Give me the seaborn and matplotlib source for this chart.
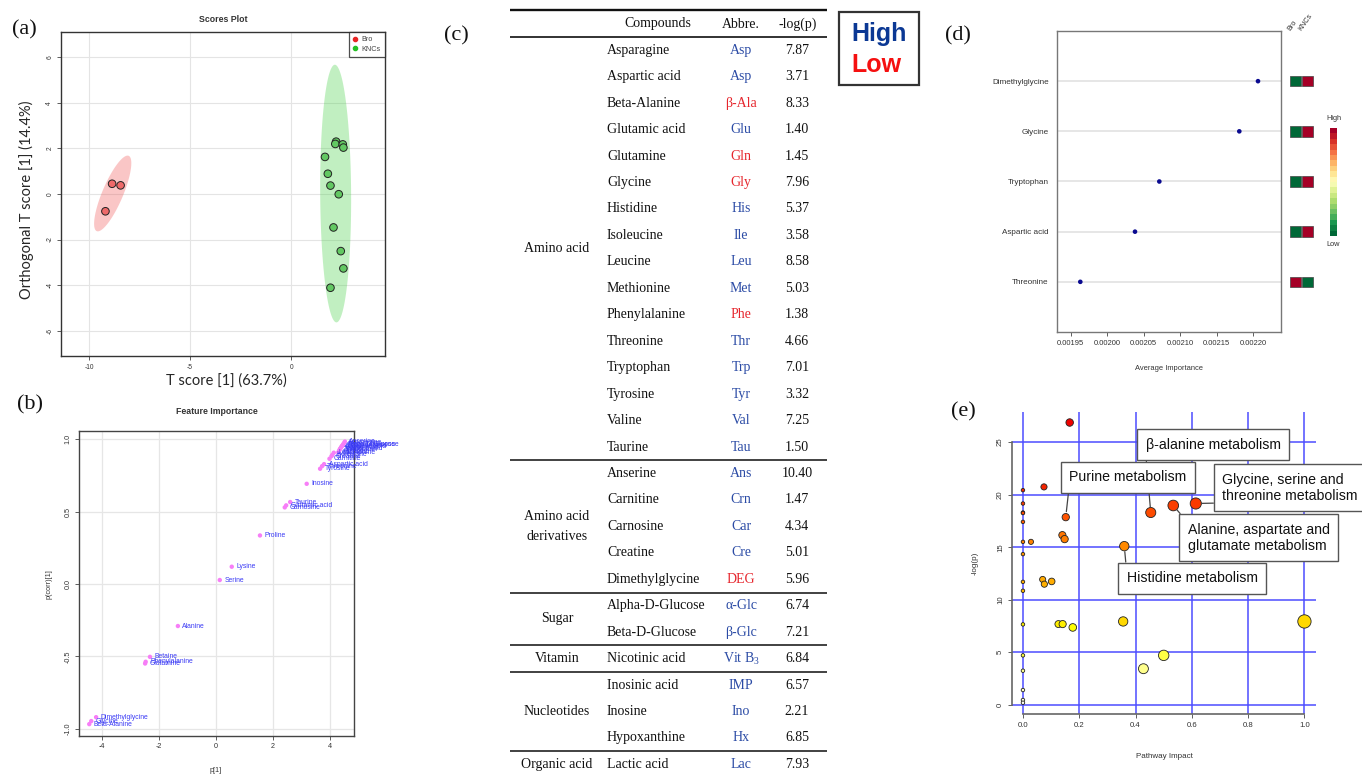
import numpy as np
import pandas as pd
import matplotlib
matplotlib.use("Agg")
import matplotlib.pyplot as plt
import seaborn as sns
from matplotlib.patches import Polygon, Rectangle
from matplotlib.lines import Line2D
from matplotlib.colors import LinearSegmentedColormap

# ---------------- (a) OPLS-DA scores ----------------
bro_t = [-8.86, -8.44, -9.19]
bro_o = [0.45, 0.38, -0.76]
knc_t = [1.68, 2.23, 2.19, 2.56, 2.59, 1.82, 1.95, 2.36, 2.10, 2.46, 2.59, 1.95]
knc_o = [1.63, 2.30, 2.20, 2.18, 2.04, 0.89, 0.37, -0.01, -1.47, -2.51, -3.27, -4.12]

# ---------------- (b) feature importance (S-plot) ----------------
feat_names = ["Anserine", "Asparagine", "Alpha-D-Glucose", "Beta-D-Glucose", "Hypoxanthine",
              "Nicotinic acid", "Lactic acid", "Inosinic acid", "Valine", "Tryptophan",
              "Histidine", "Methionine", "Leucine", "Isoleucine", "Creatine", "Carnitine",
              "Aspartic acid", "Threonine", "Tyrosine", "Inosine", "Taurine", "Glutamic acid",
              "Carnosine", "Proline", "Lysine", "Serine", "Alanine", "Betaine",
              "Phenylalanine", "Glutamine", "Dimethylglycine", "Glycine", "Beta-Alanine"]
feat_p1 = [4.52, 4.49, 4.47, 4.45, 4.43, 4.41, 4.39, 4.37, 4.35, 4.33, 4.31, 4.29, 4.13, 4.08,
           4.05, 3.98, 3.79, 3.72, 3.65, 3.18, 2.60, 2.46, 2.41, 1.54, 0.55, 0.13, -1.34, -2.32,
           -2.47, -2.49, -4.21, -4.38, -4.45]
feat_pcorr = [0.985, 0.975, 0.968, 0.962, 0.957, 0.952, 0.946, 0.940, 0.934, 0.927, 0.918, 0.910,
              0.908, 0.893, 0.884, 0.866, 0.829, 0.815, 0.797, 0.693, 0.567, 0.544, 0.530, 0.336,
              0.120, 0.028, -0.290, -0.503, -0.537, -0.549, -0.920, -0.947, -0.968]

# ---------------- (c) table ----------------
cat_names = ["Amino acid", "Amino acid\nderivatives", "Sugar", "Vitamin", "Nucleotides", "Organic acid"]
cat_sizes = [16, 5, 2, 1, 3, 1]
compounds = ["Asparagine", "Aspartic acid", "Beta-Alanine", "Glutamic acid", "Glutamine", "Glycine",
             "Histidine", "Isoleucine", "Leucine", "Methionine", "Phenylalanine", "Threonine",
             "Tryptophan", "Tyrosine", "Valine", "Taurine",
             "Anserine", "Carnitine", "Carnosine", "Creatine", "Dimethylglycine",
             "Alpha-D-Glucose", "Beta-D-Glucose",
             "Nicotinic acid",
             "Inosinic acid", "Inosine", "Hypoxanthine",
             "Lactic acid"]
abbrevs = ["Asp", "Asp", "β-Ala", "Glu", "Gln", "Gly", "His", "Ile", "Leu", "Met", "Phe", "Thr",
           "Trp", "Tyr", "Val", "Tau", "Ans", "Crn", "Car", "Cre", "DEG", "α-Glc", "β-Glc",
           r"Vit B$_\mathrm{3}$", "IMP", "Ino", "Hx", "Lac"]
abbr_level = ["High", "High", "Low", "High", "Low", "Low", "High", "High", "High", "High", "Low",
              "High", "High", "High", "High", "High", "High", "High", "High", "High", "Low",
              "High", "High", "High", "High", "High", "High", "High"]
neglogp = ["7.87", "3.71", "8.33", "1.40", "1.45", "7.96", "5.37", "3.58", "8.58", "5.03", "1.38",
           "4.66", "7.01", "3.32", "7.25", "1.50", "10.40", "1.47", "4.34", "5.01", "5.96", "6.74",
           "7.21", "6.84", "6.57", "2.21", "6.85", "7.93"]

# ---------------- (d) random forest importance ----------------
imp_names = ["Dimethylglycine", "Glycine", "Tryptophan", "Aspartic acid", "Threonine"]
imp_values = [0.0022064, 0.0021808, 0.0020713, 0.0020380, 0.0019631]
imp_bro = ["Low", "Low", "Low", "Low", "High"]
imp_knc = ["High", "High", "High", "High", "Low"]
imp_ticks = [0.00195, 0.00200, 0.00205, 0.00210, 0.00215, 0.00220]

# ---------------- (e) pathway analysis ----------------
path_impact = [0.166, 0.0747, 0.0, 0.0, 0.0, 0.0, 0.0, 0.0, 0.0284, 0.0, 0.0, 0.0, 0.0, 0.0, 0.0,
               0.0, 0.0, 0.0, 0.152, 0.140, 0.148, 0.070, 0.076, 0.102, 0.126, 0.141, 0.177,
               0.360, 0.356, 0.454, 0.534, 0.614, 0.428, 0.500, 1.0]
path_logp = [26.87, 20.74, 20.43, 19.16, 18.30, 18.25, 17.41, 15.51, 15.51, 14.34, 11.70, 10.85,
             7.65, 4.70, 3.24, 1.40, 0.45, 0.19, 17.86, 16.15, 15.77, 11.93, 11.48, 11.74, 7.68,
             7.68, 7.36, 15.10, 7.93, 18.30, 18.97, 19.16, 3.43, 4.70, 7.93]
path_labels = {29: "β-alanine metabolism", 18: "Purine metabolism",
               31: "Glycine, serine and\nthreonine metabolism",
               30: "Alanine, aspartate and\nglutamate metabolism", 27: "Histidine metabolism"}

# ================= style =================
sns.set_style("white")
SANS = ["Liberation Sans", "DejaVu Sans"]
SERIF = ["Liberation Serif", "DejaVu Serif"]
plt.rcParams["font.family"] = SANS
plt.rcParams["axes.unicode_minus"] = False
plt.rcParams["mathtext.fontset"] = "custom"
plt.rcParams["mathtext.rm"] = "Liberation Serif"

W, H = 1362, 774
fig = plt.figure(figsize=(W / 100, H / 100), dpi=100)


def px_axes(l, t, r, b, **kw):
    return fig.add_axes([l / W, 1 - b / H, (r - l) / W, (b - t) / H], **kw)


def ftext(x, y, s, **kw):
    return fig.text(x / W, 1 - y / H, s, **kw)


def r_style(ax, size=5.0, rot_y=True, spine="#444"):
    ax.tick_params(axis="both", which="both", direction="out", length=3, width=0.6,
                   color="#444", labelsize=size, labelcolor="#333", pad=2.5,
                   bottom=True, left=True)
    for s in ax.spines.values():
        s.set_color(spine)
        s.set_linewidth(1.0)
    if rot_y:
        ax.tick_params(axis="y", labelrotation=90)
        for t in ax.get_yticklabels():
            t.set_va("center")


# ---------- overlay axis for table & panel labels ----------
axT = fig.add_axes([0, 0, 1, 1], zorder=0)
axT.set_xlim(0, W)
axT.set_ylim(H, 0)
axT.axis("off")

# ================= (a) =================
axA = px_axes(61, 32, 385, 356)
dfA = pd.DataFrame({"t": bro_t + knc_t, "o": bro_o + knc_o,
                    "group": ["Bro"] * len(bro_t) + ["KNCs"] * len(knc_t)})


def conf_ellipse(x, y, k=2.45, n=200):
    pts = np.column_stack([x, y])
    mu = pts.mean(axis=0)
    vals, vecs = np.linalg.eigh(np.cov(pts.T))
    tt = np.linspace(0, 2 * np.pi, n)
    circ = np.vstack([np.cos(tt), np.sin(tt)])
    return mu + (k * vecs @ np.diag(np.sqrt(vals)) @ circ).T


for grp, col in [("Bro", "#F05050"), ("KNCs", "#40D040")]:
    sub = dfA[dfA.group == grp]
    axA.add_patch(Polygon(conf_ellipse(sub.t.values, sub.o.values), closed=True,
                          facecolor=col, alpha=0.32, edgecolor="none", zorder=1))
sns.scatterplot(data=dfA, x="t", y="o", hue="group",
                palette={"Bro": "#EE6A6A", "KNCs": "#62C862"}, s=30,
                edgecolor="#222", linewidth=0.7, legend=False, ax=axA, zorder=3)
axA.set_xlim(-11.39, 4.65)
axA.set_ylim(-7.12, 7.12)
axA.set_xticks([-10, -5, 0])
axA.set_yticks([-6, -4, -2, 0, 2, 4, 6])
axA.grid(True, color="#E4E4E4", lw=0.8)
axA.set_axisbelow(True)
axA.set_xlabel("")
axA.set_ylabel("")
r_style(axA, size=4.8, spine="#333")
handles = [Line2D([], [], marker="o", ls="", color="#E82525", markersize=3, label="Bro"),
           Line2D([], [], marker="o", ls="", color="#25C025", markersize=3, label="KNCs")]
leg = axA.legend(handles=handles, loc="upper right", frameon=True, fancybox=False,
                 fontsize=5.2, borderaxespad=0, handlelength=0.7, handletextpad=0.5,
                 borderpad=0.6, labelspacing=0.35)
leg.get_frame().set_edgecolor("#222")
leg.get_frame().set_linewidth(0.9)
for t in leg.get_texts():
    t.set_color("#444")
ftext(223, 19, "Scores Plot", ha="center", va="center", fontsize=6.3, fontweight="bold", color="#333")
ftext(226, 381, "T score [1] (63.7%)", ha="center", va="center", fontsize=10.5,
      family=["Lato", "DejaVu Sans"])
ftext(26, 200, "Orthogonal T score [1] (14.4%)", ha="center", va="center", fontsize=10.5,
      rotation=90, family=["Lato", "DejaVu Sans"])

# ================= (b) =================
axB = px_axes(79, 430.7, 354, 735.7)
dfB = pd.DataFrame({"name": feat_names, "p1": feat_p1, "pcorr": feat_pcorr})
sns.scatterplot(data=dfB, x="p1", y="pcorr", color="#F77EF7", s=10, edgecolor="none",
                legend=False, ax=axB, zorder=3)
for _, r in dfB.iterrows():
    axB.annotate(r["name"], (r["p1"], r["pcorr"]), xytext=(3.2, 0), textcoords="offset points",
                 ha="left", va="center", fontsize=4.9, color="#3A3AF5", annotation_clip=False,
                 zorder=4)
axB.set_xlim(-4.81, 4.84)
axB.set_ylim(-1.048, 1.06)
axB.set_xticks([-4, -2, 0, 2, 4])
axB.set_yticks([-1.0, -0.5, 0.0, 0.5, 1.0])
axB.set_yticklabels(["-1.0", "-0.5", "0.0", "0.5", "1.0"])
axB.grid(True, color="#E6E6E6", lw=0.9)
axB.set_axisbelow(True)
axB.set_xlabel("")
axB.set_ylabel("")
r_style(axB, size=5.2, spine="#444")
ftext(217, 411, "Feature Importance", ha="center", va="center", fontsize=6.3, fontweight="bold", color="#333")
ftext(216, 770, "p[1]", ha="center", va="center", fontsize=5.2, color="#333")
ftext(49, 584, "p(corr)[1]", ha="center", va="center", fontsize=5.2, rotation=90, color="#333")

# ================= (c) table =================
row_y0, row_dy = 50.3, 26.45
x_cat, x_cmp, x_abb, x_val = 557, 607, 741, 797
tbl_l, tbl_r = 510, 827
blue_t, red_t = "#2B4BA5", "#E6262D"
tfs = 10
axT.plot([tbl_l, tbl_r], [9.5, 9.5], color="#111", lw=1.7, solid_capstyle="butt")
axT.text(658, 24, "Compounds", ha="center", va="center", fontsize=tfs, family=SERIF, color="#111")
axT.text(x_abb, 24, "Abbre.", ha="center", va="center", fontsize=tfs, family=SERIF, color="#111")
axT.text(x_val + 1, 24, "-log(p)", ha="center", va="center", fontsize=tfs, family=SERIF, color="#111")
axT.plot([tbl_l, tbl_r], [37, 37], color="#222", lw=1.3, solid_capstyle="butt")
i0 = 0
for cat, n in zip(cat_names, cat_sizes):
    ys = row_y0 + row_dy * np.arange(i0, i0 + n)
    axT.text(x_cat, ys.mean(), cat, ha="center", va="center", fontsize=tfs, family=SERIF,
             color="#111", linespacing=1.7, multialignment="center")
    for j in range(i0, i0 + n):
        y = row_y0 + row_dy * j
        axT.text(x_cmp, y, compounds[j], ha="left", va="center", fontsize=tfs, family=SERIF, color="#111")
        axT.text(x_abb, y, abbrevs[j], ha="center", va="center", fontsize=tfs, family=SERIF,
                 color=blue_t if abbr_level[j] == "High" else red_t)
        axT.text(x_val, y, neglogp[j], ha="center", va="center", fontsize=tfs, family=SERIF, color="#111")
    i0 += n
    if i0 < len(compounds):
        yl = row_y0 + row_dy * (i0 - 0.5)
        axT.plot([tbl_l, tbl_r], [yl, yl], color="#333", lw=1.3, solid_capstyle="butt")
axT.add_patch(Rectangle((839, 12), 80, 73, fill=False, ec="#333", lw=1.6))
axT.text(878.7, 33.5, "High", ha="center", va="center", fontsize=18, fontweight="bold", color="#0B3894")
axT.text(876, 65, "Low", ha="center", va="center", fontsize=18, fontweight="bold", color="#F51010")

# ================= (d) =================
axD = px_axes(1057, 31, 1281, 332)
ypos = np.arange(len(imp_names), 0, -1)
dfD = pd.DataFrame({"name": imp_names, "imp": imp_values, "y": ypos})
for y in ypos:
    axD.axhline(y, color="#E2E2E2", lw=1.2, zorder=1)
sns.scatterplot(data=dfD, x="imp", y="y", color="#0A0A90", s=11, edgecolor="none",
                legend=False, ax=axD, zorder=3)
axD.set_xlim(0.0019312, 0.0022379)
axD.set_ylim(0, 6)
axD.set_xticks(imp_ticks)
axD.set_xticklabels([f"{v:.5f}" for v in imp_ticks])
axD.set_yticks(ypos)
axD.set_yticklabels(imp_names)
axD.set_xlabel("")
axD.set_ylabel("")
r_style(axD, size=5.5, rot_y=False, spine="#777")
axD.tick_params(axis="y", length=0, pad=6, labelsize=5.9)
ftext(1169, 368, "Average Importance", ha="center", va="center", fontsize=5.4, color="#333")

heat_cmap = sns.color_palette("RdYlGn_r", as_cmap=True)
level_col = {"Low": heat_cmap(0.0), "High": heat_cmap(1.0)}
axH = px_axes(1289, 31, 1314, 332)
dfH = pd.DataFrame({"y": np.concatenate([ypos, ypos]),
                    "col": [1] * len(ypos) + [2] * len(ypos),
                    "level": imp_bro + imp_knc})
sns.scatterplot(data=dfH, x="col", y="y", hue="level", palette=level_col, marker="s",
                s=(10.5 * 0.72) ** 2, edgecolor="#444", linewidth=0.5, legend=False, ax=axH)
axH.set_xlim(0.42, 2.58)
axH.set_ylim(0, 6)
axH.axis("off")
for c, lab in zip([1, 2], ["Bro", "KNCs"]):
    axH.text(c - 0.35, 5.98, lab, rotation=55, ha="left", va="bottom", rotation_mode="anchor",
             fontsize=5.2, color="#333", clip_on=False)
axCB = px_axes(1330, 128, 1337, 236)
axCB.imshow(np.linspace(1, 0, 20)[:, None], aspect="auto", cmap=heat_cmap, interpolation="nearest")
axCB.set_xticks([])
axCB.set_yticks([])
for s in axCB.spines.values():
    s.set_visible(False)
ftext(1333.5, 118, "High", ha="center", va="center", fontsize=5.3, color="#333")
ftext(1333.5, 245, "Low", ha="center", va="center", fontsize=5.3, color="#333")

# ================= (e) =================
axE = px_axes(1011.7, 411.7, 1315.7, 714.3)
dfE = pd.DataFrame({"impact": path_impact, "logp": path_logp})
heat_e = LinearSegmentedColormap.from_list("heat_e", [
    (0.0, "#FFFFF2"), (3.4 / 27, "#FFFF8C"), (5 / 27, "#FFFF30"), (7.4 / 27, "#FFFF00"),
    (8 / 27, "#FFD400"), (11.5 / 27, "#FFAE00"), (15 / 27, "#FF8C00"), (18 / 27, "#FF5200"),
    (20 / 27, "#F52800"), (1.0, "#EE0000")])
sizes_e = (0.72 * (3.5 + 9.8 * np.sqrt(dfE["impact"].values))) ** 2
sns.scatterplot(data=dfE, x="impact", y="logp", hue="logp", palette=heat_e, hue_norm=(0, 27),
                s=sizes_e, edgecolor="#222", linewidth=0.6, legend=False, ax=axE, zorder=3)
axE.set_xlim(-0.040, 1.040)
axE.set_ylim(-0.91, 27.9)
axE.set_xticks([0, 0.2, 0.4, 0.6, 0.8, 1.0])
axE.set_xticklabels(["0.0", "0.2", "0.4", "0.6", "0.8", "1.0"])
axE.set_yticks([0, 5, 10, 15, 20, 25])
axE.grid(True, color="#4D4DFF", lw=1.1)
axE.set_axisbelow(True)
axE.set_xlabel("")
axE.set_ylabel("")
r_style(axE, size=5.6, spine="#666")
axE.spines["top"].set_visible(False)
axE.spines["right"].set_visible(False)
axE.spines["left"].set_bounds(0, 25)
axE.spines["bottom"].set_bounds(0, 1.0)
axE.spines["left"].set_linewidth(1.2)
axE.spines["bottom"].set_linewidth(1.2)

label_pos = {29: (0.6754, 24.74, "center", (0, 0)),
             18: (0.3733, 21.67, "center", (0, 0)),
             31: (0.7085, 20.65, "left", (0, 0)),
             30: (0.5855, 15.91, "left", (0, 1)),
             27: (0.6008, 12.06, "center", (0, 1))}
for idx, text in path_labels.items():
    tx, ty, ha, rel = label_pos[idx]
    axE.annotate(text, xy=(path_impact[idx], path_logp[idx]), xytext=(tx, ty),
                 textcoords="data", ha=ha, va="center", fontsize=10.2, color="#111",
                 multialignment="left", linespacing=1.2, annotation_clip=False, zorder=6,
                 bbox=dict(boxstyle="square,pad=0.6", fc="white", ec="#555", lw=1.0),
                 arrowprops=dict(arrowstyle="-", color="#444", lw=0.9, shrinkA=0, shrinkB=4,
                                 relpos=rel))
ftext(1164, 756, "Pathway Impact", ha="center", va="center", fontsize=5.8, color="#333")
ftext(975, 563, "-log(p)", ha="center", va="center", fontsize=5.8, rotation=90, color="#333")

# ---------- panel labels ----------
for lab, (x, y) in {"(a)": (24.5, 30), "(b)": (30, 405), "(c)": (456, 36),
                    "(d)": (957.7, 36), "(e)": (963, 412)}.items():
    ftext(x, y, lab, ha="center", va="center", fontsize=16, family=SERIF, color="#111")

fig.savefig("out.png", dpi=100)
